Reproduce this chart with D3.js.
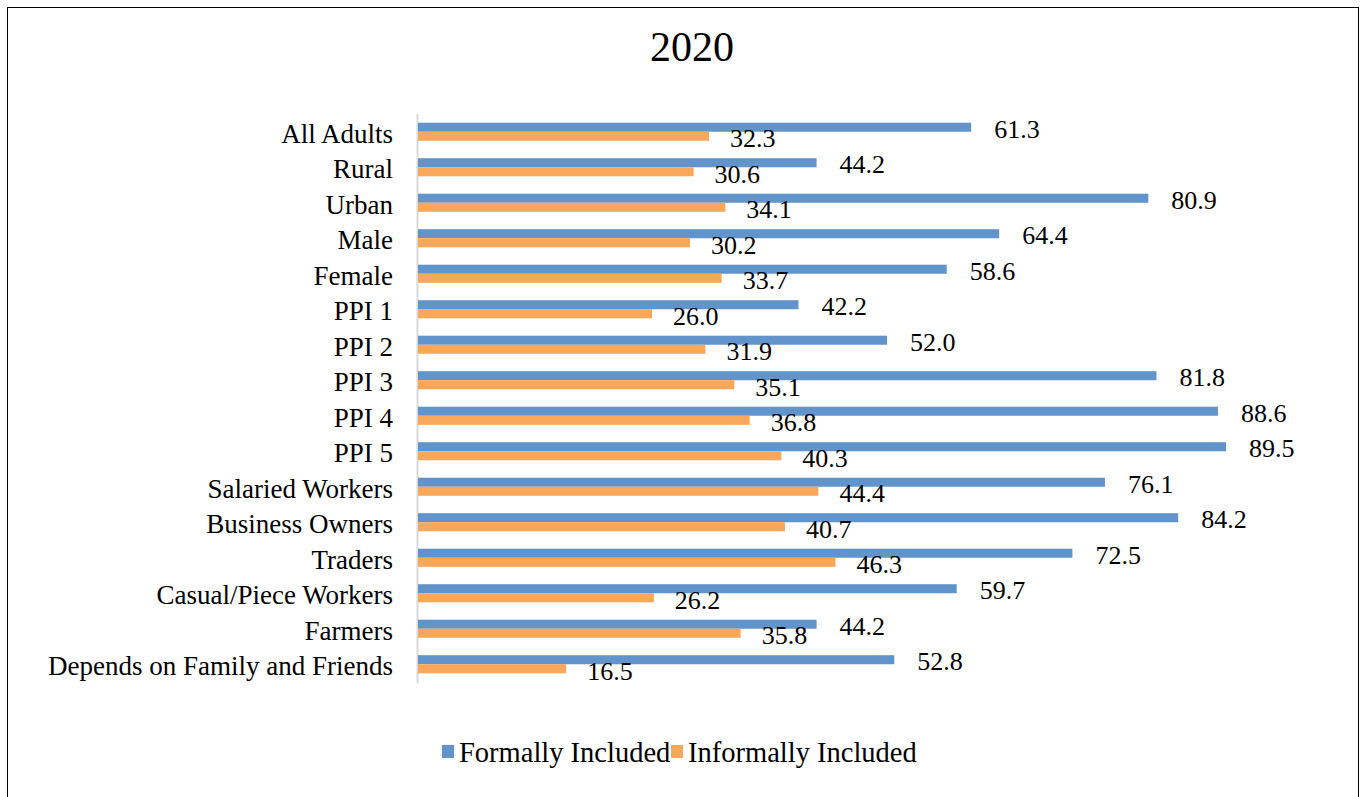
<!DOCTYPE html>
<html>
<head>
<meta charset="utf-8">
<script src="https://d3js.org/d3.v7.min.js"></script>
<style>
  body { margin: 0; background: #fff; }
  text { font-family: "Liberation Serif", "DejaVu Serif", serif; fill: #000; }
</style>
</head>
<body>
<svg width="1365" height="797"></svg>
<script>
// chart data
const categories = ['All Adults', 'Rural', 'Urban', 'Male', 'Female', 'PPI 1', 'PPI 2', 'PPI 3', 'PPI 4', 'PPI 5',
    'Salaried Workers', 'Business Owners', 'Traders', 'Casual/Piece Workers', 'Farmers', 'Depends on Family and Friends'];
const formally = [61.3, 44.2, 80.9, 64.4, 58.6, 42.2, 52.0, 81.8, 88.6, 89.5, 76.1, 84.2, 72.5, 59.7, 44.2, 52.8];
const informally = [32.3, 30.6, 34.1, 30.2, 33.7, 26.0, 31.9, 35.1, 36.8, 40.3, 44.4, 40.7, 46.3, 26.2, 35.8, 16.5];
const seriesNames = ['Formally Included', 'Informally Included'];
const colours = ['#6194CA', '#F9A75A'];

const svg = d3.select('svg');

// outer frame
svg.append('rect')
    .attr('x', 7.5).attr('y', 7.5)
    .attr('width', 1351).attr('height', 800)
    .attr('fill', 'none').attr('stroke', '#000').attr('stroke-width', 1);

svg.append('text')
    .attr('x', 692).attr('y', 61)
    .attr('text-anchor', 'middle')
    .style('font-size', '42px')
    .text('2020');

const x = d3.scaleLinear().domain([0, 100]).range([417, 1321]);
const y = d3.scaleBand().domain(categories).range([114, 682]).paddingInner(0.49).paddingOuter(0.245);
const sub = d3.scaleBand().domain([0, 1]).range([0, y.bandwidth()]);

const series = [formally, informally];

// category axis line
svg.append('line')
    .attr('x1', 417.5).attr('x2', 417.5)
    .attr('y1', 114).attr('y2', 683)
    .attr('stroke', '#d9d9d9').attr('stroke-width', 2);

const rows = svg.append('g').selectAll('g')
    .data(categories)
    .enter().append('g')
    .attr('transform', (d) => 'translate(0,' + y(d) + ')');

series.forEach((vals, s) => {
    rows.append('rect')
        .attr('x', x(0) + 1)
        .attr('y', sub(s))
        .attr('width', (d, i) => x(vals[i]) - x(0) - 1)
        .attr('height', sub.bandwidth())
        .attr('fill', colours[s]);

    rows.append('text')
        .attr('x', (d, i) => x(vals[i]) + (s === 0 ? 23 : 21))
        .attr('y', sub(s) + sub.bandwidth() / 2 + (s === 0 ? 10.5 : 11))
        .style('font-size', '26px')
        .text((d, i) => vals[i].toFixed(1));
});

rows.append('text')
    .attr('x', 393)
    .attr('y', y.bandwidth() / 2 + 11)
    .attr('text-anchor', 'end')
    .style('font-size', '27px')
    .text((d) => d);

// legend
const legendX = [442, 671];
const legend = svg.append('g').selectAll('g')
    .data(seriesNames)
    .enter().append('g')
    .attr('transform', (d, i) => 'translate(' + legendX[i] + ',745)');
legend.append('rect')
    .attr('width', 12).attr('height', 13)
    .attr('fill', (d, i) => colours[i]);
legend.append('text')
    .attr('x', 17).attr('y', 16.5)
    .style('font-size', '28.5px')
    .text((d) => d);
</script>
</body>
</html>
